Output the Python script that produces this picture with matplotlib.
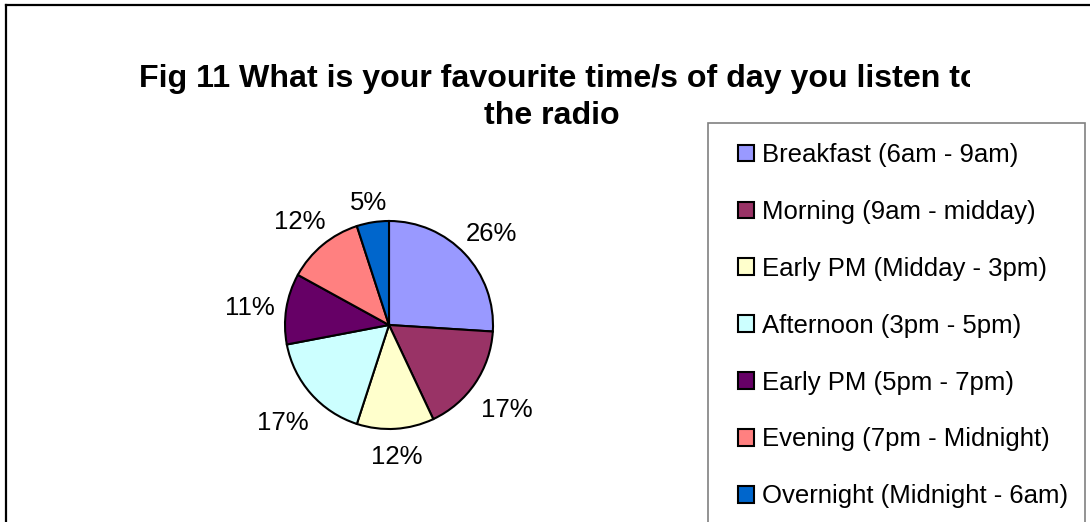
import numpy as np
import matplotlib.pyplot as plt
from matplotlib.patches import Rectangle
from matplotlib.transforms import Bbox

plt.rcParams['font.family'] = ['Liberation Sans', 'DejaVu Sans']

# data
labels = ['Breakfast (6am - 9am)', 'Morning (9am - midday)', 'Early PM (Midday - 3pm)',
          'Afternoon (3pm - 5pm)', 'Early PM (5pm - 7pm)', 'Evening (7pm - Midnight)',
          'Overnight (Midnight - 6am)']
values = [26, 17, 12, 17, 11, 12, 5]
colors = ['#9999FF', '#993366', '#FFFFCC', '#CCFFFF', '#660066', '#FF8080', '#0066CC']

W, H = 1090, 522
fig = plt.figure(figsize=(W / 100, H / 100), dpi=100)

# outer chart frame (cropped at right and bottom)
fig.add_artist(plt.Line2D([6 / W, 6 / W], [0, 1 - 4.5 / H], color='black', lw=1.6))
fig.add_artist(plt.Line2D([6 / W, 1], [1 - 4.5 / H, 1 - 4.5 / H], color='black', lw=1.6))

# title, first line is clipped at the legend side like the original
t1 = fig.text(139 / W, 1 - 79 / H, 'Fig 11 What is your favourite time/s of day you listen to',
              ha='left', va='center', fontsize=23.1, fontweight='bold')
t1.set_clip_box(Bbox.from_extents(0, 0, 970, H))
t1.set_clip_on(True)
fig.text(552 / W, 1 - 116 / H, 'the radio', ha='center', va='center',
         fontsize=23.1, fontweight='bold')

# pie
cx, cy, r = 389, 325, 104
ax = fig.add_axes([(cx - r) / W, 1 - (cy + r) / H, 2 * r / W, 2 * r / H])
wedges, texts = ax.pie(values, colors=colors, startangle=90, counterclock=False,
                       labels=[f'{v}%' for v in values], labeldistance=1.3,
                       wedgeprops=dict(edgecolor='black', linewidth=1.5),
                       textprops=dict(fontsize=18.5))
ax.set_xlim(-1, 1)
ax.set_ylim(-1, 1)

# put labels just outside the edge, like excel does
renderer = fig.canvas.get_renderer()
gap = 10
for w, t in zip(wedges, texts):
    t.set_ha('center')
    t.set_va('center')
    th = np.deg2rad((w.theta1 + w.theta2) / 2)
    bb = t.get_window_extent(renderer)
    d = r + gap + abs(np.cos(th)) * bb.width / 2 + abs(np.sin(th)) * bb.height / 2
    t.set_position((d / r * np.cos(th), (d * np.sin(th) - 5) / r))

# legend box
fig.add_artist(Rectangle((708 / W, -0.1), (1085 - 708) / W, 1 - 123 / H + 0.1,
                         transform=fig.transFigure, facecolor='white',
                         edgecolor='#808080', lw=1.2))
fig.legend(wedges, labels, loc='upper left', bbox_to_anchor=(738 / W, 1 - 143 / H),
           frameon=False, fontsize=18.5, handlelength=0.62, handleheight=0.62,
           handletextpad=0.31, labelspacing=1.28, borderaxespad=0, borderpad=0)

fig.savefig('out.png', dpi=100)
